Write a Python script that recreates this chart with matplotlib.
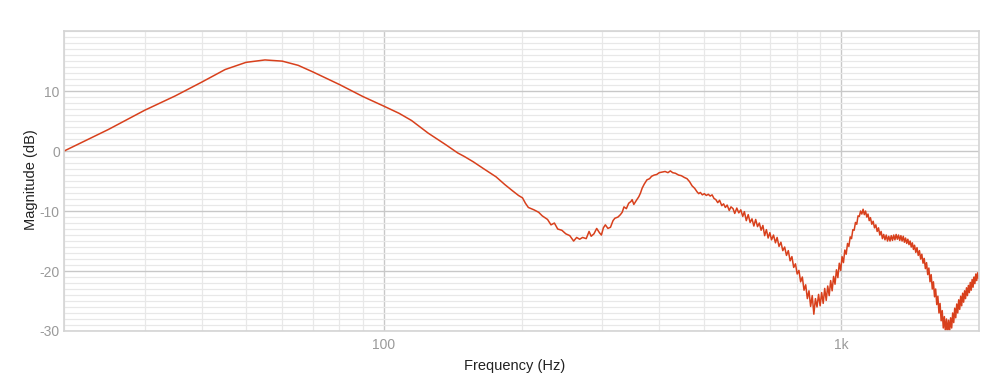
import numpy as np
import matplotlib.pyplot as plt
from matplotlib.ticker import FixedLocator, NullFormatter

plt.rcParams['font.family'] = ['Liberation Sans', 'DejaVu Sans']
plt.rcParams['axes.unicode_minus'] = False

# frequency response (Hz, dB)
freq_low = [20, 25, 30, 35, 40, 45, 50, 55, 60, 65, 70, 80, 90, 100, 108, 115, 125, 137,
            145, 150, 157, 165, 176, 184, 191, 197, 201, 204, 207, 213, 218, 222, 228, 232,
            236, 240, 245, 250, 255, 260, 264, 268, 272, 277, 281, 284, 288, 292, 296, 299,
            302, 305, 309, 313, 317, 320, 325, 329, 332, 335, 339, 343, 347, 349, 352, 356,
            361, 364, 367, 371, 376, 381, 385, 390, 395, 400, 406, 412, 418, 423, 428, 434,
            441, 447, 454, 460, 466, 472, 478, 484, 488, 492, 497]
mag_low = [0, 3.6, 6.8, 9.2, 11.5, 13.6, 14.8, 15.2, 15.0, 14.3, 13.2, 11.1, 9.1, 7.5, 6.3, 5.1,
           3.0, 1.0, -0.3, -0.9, -1.8, -2.9, -4.3, -5.6, -6.6, -7.4, -7.8, -8.7, -9.4, -9.8,
           -10.2, -10.8, -11.4, -12.3, -12.0, -13.0, -13.2, -13.8, -14.1, -15.0, -14.4, -14.7,
           -14.4, -14.6, -13.4, -14.2, -13.8, -12.9, -13.6, -14.0, -12.8, -12.3, -12.9, -12.7,
           -11.6, -11.2, -11.0, -10.6, -10.2, -9.3, -9.6, -8.7, -8.4, -8.1, -8.9, -8.3, -7.6,
           -7.0, -6.2, -5.5, -4.8, -4.6, -4.2, -4.0, -3.9, -3.6, -3.5, -3.4, -3.6, -3.3, -3.6,
           -3.7, -4.0, -4.1, -4.4, -4.6, -5.1, -5.8, -6.2, -6.8, -7.1, -6.9, -7.3]

freq_mid = [502, 507, 512, 517, 522, 527, 532, 537, 542, 548, 553, 558, 563, 569, 574, 580,
            585, 591, 597, 603, 609, 614, 620, 626, 632, 638, 644, 650, 656, 662, 668, 674,
            680, 686, 692, 698, 704, 711, 718, 724, 731, 738, 745, 752, 759, 766, 773, 780,
            787, 794, 801, 808, 815, 822, 829, 836, 843, 850, 857, 864, 871, 878, 885, 892,
            899, 906, 913, 920, 927, 934, 941, 948, 955, 962, 969, 976, 983, 990, 997, 1004,
            1011, 1018, 1025, 1032, 1039, 1046, 1053, 1060, 1067, 1074, 1081, 1088, 1095, 1102,
            1109, 1116, 1123, 1130, 1137, 1144, 1151, 1158, 1166, 1174, 1182, 1190, 1198]
mag_mid = [-7.1, -7.4, -7.2, -7.5, -7.3, -7.9, -8.1, -8.6, -8.2, -9.1, -8.8, -9.4, -9.0, -9.9,
           -9.3, -9.6, -10.4, -9.5, -10.3, -9.8, -10.9, -10.1, -11.6, -10.6, -11.9, -11.3,
           -12.5, -11.4, -12.6, -12.0, -13.2, -12.4, -14.1, -13.1, -14.5, -13.6, -14.8, -14.0,
           -15.3, -14.4, -15.9, -15.2, -16.6, -16.0, -17.4, -16.6, -18.3, -17.6, -19.4, -18.8,
           -20.5, -19.9, -21.8, -21.0, -23.2, -22.3, -24.6, -23.3, -25.9, -24.1, -27.2, -24.6,
           -26.0, -23.9, -25.8, -23.6, -25.4, -22.9, -24.9, -22.5, -24.1, -21.6, -23.3, -20.9,
           -22.2, -19.8, -21.1, -18.7, -19.9, -17.6, -18.6, -16.5, -17.2, -15.4, -15.9, -14.3,
           -14.6, -13.1, -13.2, -11.9, -12.2, -10.8, -10.9, -10.0, -10.5, -9.7, -10.6, -10.0,
           -11.0, -10.5, -11.6, -11.1, -12.2, -11.7, -12.8, -12.3, -13.4]

freq_high = [1206, 1214, 1222, 1230, 1238, 1246, 1254, 1262, 1270, 1278, 1286, 1294, 1302, 1310,
             1318, 1326, 1334, 1342, 1350, 1358, 1366, 1374, 1382, 1390, 1398, 1406, 1414, 1422,
             1430, 1438, 1446, 1455, 1464, 1473, 1482, 1491, 1500, 1509, 1518, 1527, 1536, 1545,
             1554, 1563, 1572, 1581, 1590, 1599, 1608, 1617, 1626, 1635, 1644, 1653, 1662, 1671,
             1680, 1689, 1698, 1707, 1716, 1725, 1734, 1743, 1752, 1761, 1770, 1779, 1788, 1797,
             1806, 1815, 1824, 1833, 1842, 1851, 1860, 1869, 1878, 1887, 1896, 1905, 1914, 1923,
             1932, 1941, 1950, 1959, 1968, 1977, 1986, 1995, 2000]
mag_high = [-12.8, -14.0, -13.4, -14.6, -13.9, -14.8, -14.0, -15.0, -14.2, -15.0, -14.1, -14.9,
            -14.0, -14.8, -13.9, -14.7, -14.0, -14.9, -14.1, -15.0, -14.2, -15.2, -14.5, -15.4,
            -14.7, -15.6, -15.0, -16.0, -15.3, -16.4, -15.7, -16.9, -16.1, -17.4, -16.6, -18.0,
            -17.2, -18.7, -17.9, -19.6, -18.6, -20.6, -19.5, -21.8, -20.6, -23.0, -21.8, -24.3,
            -23.0, -25.6, -24.2, -27.0, -25.4, -28.3, -26.6, -29.5, -27.6, -30.2, -28.0, -30.3,
            -28.2, -30.1, -27.8, -29.5, -27.0, -28.6, -26.2, -27.8, -25.5, -27.0, -24.8, -26.4,
            -24.2, -25.8, -23.7, -25.2, -23.3, -24.6, -22.8, -24.1, -22.4, -23.6, -21.9, -23.2,
            -21.4, -22.7, -21.0, -22.1, -20.5, -21.6, -20.3, -21.2, -20.8]

freq = freq_low + freq_mid + freq_high
mag = mag_low + mag_mid + mag_high

x_major = [100, 1000]
x_labels = ['100', '1k']
x_minor = [20, 30, 40, 50, 60, 70, 80, 90, 200, 300, 400, 500, 600, 700, 800, 900, 2000]
y_major = [-30, -20, -10, 0, 10]

fig = plt.figure(figsize=(10, 3.8), dpi=100)
ax = fig.add_axes([0.064, 0.129, 0.915, 0.789])

ax.plot(freq, mag, color='#d8401c', lw=1.1)

ax.set_xscale('log')
ax.set_xlim(20, 2000)
ax.set_ylim(-30, 20)

ax.xaxis.set_major_locator(FixedLocator(x_major))
ax.set_xticklabels(x_labels)
ax.xaxis.set_minor_locator(FixedLocator(x_minor))
ax.xaxis.set_minor_formatter(NullFormatter())
ax.yaxis.set_major_locator(FixedLocator(y_major))
ax.yaxis.set_minor_locator(FixedLocator(np.arange(-30, 21, 1)))

ax.grid(which='major', color='#c8c8c8', lw=1.0)
ax.grid(which='minor', color='#e8e8e8', lw=0.9)
ax.set_axisbelow(True)

ax.tick_params(which='both', length=0, labelsize=10, labelcolor='#9a9a9a')
ax.tick_params(axis='x', pad=5)
ax.tick_params(axis='y', pad=3)

for s in ax.spines.values():
    s.set_color('#d4d4d4')
    s.set_linewidth(1.2)

fig.text(0.515, 1 - 366 / 380, 'Frequency (Hz)', fontsize=10.5, color='#222222',
         ha='center', va='center')
fig.text(0.031, 1 - 180 / 380, 'Magnitude (dB)', fontsize=10.5, color='#222222',
         ha='center', va='center', rotation=90)

fig.savefig('out.png', dpi=100)
